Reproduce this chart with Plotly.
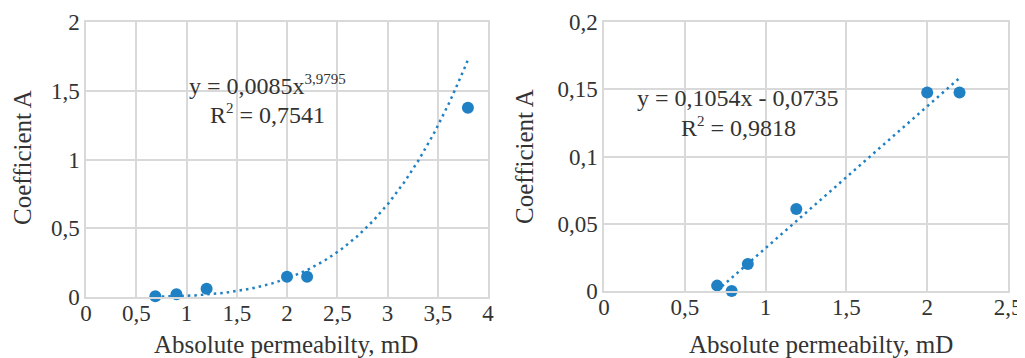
import numpy as np
import plotly.graph_objects as go

# Left panel data
left_x = [0.69, 0.79, 0.90, 1.20, 2.00, 2.20, 3.80]
left_y = [0.005, -0.003, 0.02, 0.06, 0.147, 0.147, 1.377]
left_coef = 0.0085
left_pow = 3.9795
left_xticks = [0, 0.5, 1, 1.5, 2, 2.5, 3, 3.5, 4]
left_xtext = ["0", "0,5", "1", "1,5", "2", "2,5", "3", "3,5", "4"]
left_yticks = [0, 0.5, 1, 1.5, 2]
left_ytext = ["0", "0,5", "1", "1,5", "2"]
left_eq = ["y = 0,0085x<sup><span style='font-size:15px'>3,9795</span></sup>",
           "R<sup><span style='font-size:15px'>2</span></sup> = 0,7541"]

# Right panel data
right_x = [0.70, 0.79, 0.89, 1.19, 2.00, 2.20]
right_y = [0.004, 0.0, 0.020, 0.061, 0.1475, 0.1475]
right_slope = 0.1054
right_icpt = -0.0735
right_xticks = [0, 0.5, 1, 1.5, 2, 2.5]
right_xtext = ["0", "0,5", "1", "1,5", "2", "2,5"]
right_yticks = [0, 0.05, 0.1, 0.15, 0.2]
right_ytext = ["0", "0,05", "0,1", "0,15", "0,2"]
right_eq = ["y = 0,1054x - 0,0735",
            "R<sup><span style='font-size:15px'>2</span></sup> = 0,9818"]

x_title = "Absolute permeabilty, mD"
y_title = "Coefficient A"

BLUE = "#1f80c4"
GRID = "#d9d9d9"
FONT = "Liberation Serif, Times New Roman, DejaVu Serif, serif"
TXT = "#333333"

# page body has an 8px margin; figure sized to fit the 1025x358 window
OFF = 8
W, H = 1025 - OFF, 358 - OFF

def px(x):
    return (x - OFF) / W

def py(y):
    return 1 - (y - OFF) / H

fig = go.Figure()

# trendlines
lx = np.linspace(min(left_x), max(left_x), 200)
fig.add_trace(go.Scatter(x=lx, y=left_coef * lx ** left_pow, mode="lines",
                         line=dict(color=BLUE, width=2.5, dash="2.5px,4px"),
                         xaxis="x", yaxis="y", showlegend=False, hoverinfo="skip"))
rx = np.linspace(min(right_x), max(right_x), 50)
fig.add_trace(go.Scatter(x=rx, y=right_slope * rx + right_icpt, mode="lines",
                         line=dict(color=BLUE, width=2.5, dash="2.5px,4px"),
                         xaxis="x2", yaxis="y2", showlegend=False, hoverinfo="skip"))

fig.add_trace(go.Scatter(x=left_x, y=left_y, mode="markers",
                         marker=dict(color=BLUE, size=12), cliponaxis=False,
                         xaxis="x", yaxis="y", showlegend=False))
fig.add_trace(go.Scatter(x=right_x, y=right_y, mode="markers",
                         marker=dict(color=BLUE, size=12), cliponaxis=False,
                         xaxis="x2", yaxis="y2", showlegend=False))

axis_common = dict(showgrid=True, gridcolor=GRID, gridwidth=1.5, zeroline=False,
                   showline=True, linecolor=GRID, linewidth=1.5, mirror=True,
                   ticks="", tickfont=dict(family=FONT, size=23, color=TXT),
                   tickmode="array", automargin=False)

title_font = dict(family=FONT, size=25, color=TXT)
eq_font = dict(family=FONT, size=24, color=TXT)

annotations = []
# equation boxes (white background hiding grid)
shapes = [
    dict(type="rect", xref="paper", yref="paper", layer="between",
         x0=px(178), x1=px(353), y0=py(135), y1=py(68),
         fillcolor="white", line=dict(width=0)),
    dict(type="rect", xref="paper", yref="paper", layer="between",
         x0=px(615), x1=px(847), y0=py(143), y1=py(79),
         fillcolor="white", line=dict(width=0)),
]
for txt, yy in zip(left_eq, [85, 114]):
    annotations.append(dict(text=txt, xref="paper", yref="paper", x=px(267), y=py(yy),
                            xanchor="center", yanchor="middle", showarrow=False, font=eq_font))
for txt, yy in zip(right_eq, [98, 127]):
    annotations.append(dict(text=txt, xref="paper", yref="paper", x=px(738), y=py(yy),
                            xanchor="center", yanchor="middle", showarrow=False, font=eq_font))
# axis titles
for xx in [286, 821]:
    annotations.append(dict(text=x_title, xref="paper", yref="paper", x=px(xx), y=py(344),
                            xanchor="center", yanchor="middle", showarrow=False, font=title_font))
for xx, yy in [(22, 158), (524, 157)]:
    annotations.append(dict(text=y_title, xref="paper", yref="paper", x=px(xx), y=py(yy),
                            xanchor="center", yanchor="middle", showarrow=False,
                            textangle=-90, font=title_font))

fig.update_layout(
    width=W, height=H,
    margin=dict(l=0, r=0, t=0, b=0),
    paper_bgcolor="white", plot_bgcolor="white",
    font=dict(family=FONT, color=TXT),
    xaxis=dict(axis_common, domain=[px(86), px(488)], range=[0, 4],
               tickvals=left_xticks, ticktext=left_xtext, anchor="y", ticklabelstandoff=-5),
    yaxis=dict(axis_common, domain=[py(297), py(22)], range=[0, 2],
               tickvals=left_yticks, ticktext=left_ytext, anchor="x"),
    xaxis2=dict(axis_common, domain=[px(604), px(1008)], range=[0, 2.5],
                tickvals=right_xticks, ticktext=right_xtext, anchor="y2", ticklabelstandoff=-5),
    yaxis2=dict(axis_common, domain=[py(291), py(22)], range=[0, 0.2],
                tickvals=right_yticks, ticktext=right_ytext, anchor="x2"),
    annotations=annotations,
    shapes=shapes,
)

fig.write_html("out.html")
